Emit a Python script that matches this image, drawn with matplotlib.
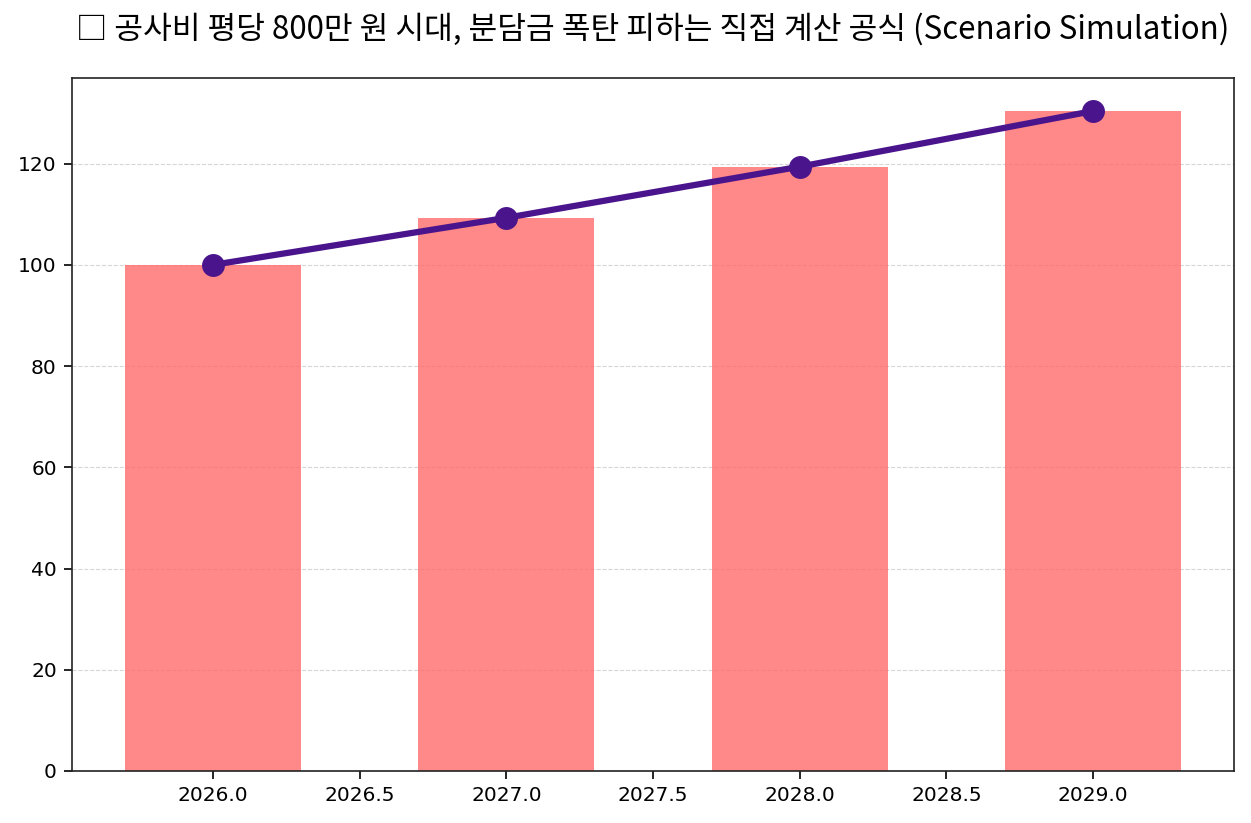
import matplotlib
matplotlib.use('Agg')
import matplotlib.pyplot as plt

plt.rcParams['font.family'] = ['Noto Sans CJK KR', 'DejaVu Sans']

years = [2026, 2027, 2028, 2029]
cost_index = [100, 109.3, 119.4, 130.4]
title = '□ 공사비 평당 800만 원 시대, 분담금 폭탄 피하는 직접 계산 공식 (Scenario Simulation)'

fig = plt.figure(figsize=(12.51, 8.23), dpi=100)
ax = fig.add_axes([0.0576, 0.0632, 0.9288, 0.842])

ax.bar(years, cost_index, width=0.6, color='#ff6b6b', alpha=0.8, zorder=2)
ax.plot(years, cost_index, color='#4a148c', linewidth=4.5, marker='o', markersize=15.5, zorder=3)

ax.grid(axis='y', linestyle='--', color='#cccccc', alpha=0.8, zorder=0)
ax.tick_params(labelsize=14.5, labelfontfamily='DejaVu Sans', length=6, width=1.2, pad=5)
for s in ax.spines.values():
    s.set_color('#222222')
    s.set_linewidth(1.2)

ax.set_title(title, fontsize=22.5, pad=28)

fig.savefig('out.png', dpi=100)
